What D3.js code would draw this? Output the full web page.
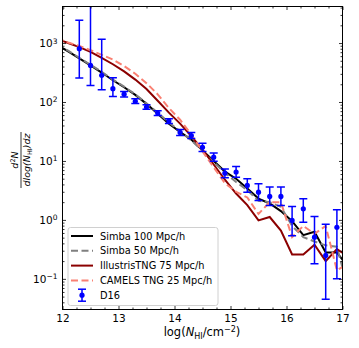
<!DOCTYPE html>
<html>
<head>
<meta charset="utf-8">
<script src="https://cdn.jsdelivr.net/npm/d3@7"></script>
<style>
    body { margin: 0; background: #fff; }
    text { font-family: "DejaVu Sans", sans-serif; }
</style>
</head>
<body>
<svg id="chart" width="359" height="348"></svg>
<script>
// column density bins for the simulation curves
const logN = [11.9, 12.1, 12.3, 12.5, 12.7, 12.9, 13.1, 13.3, 13.5, 13.7, 13.9, 14.1, 14.3, 14.5,
    14.7, 14.9, 15.1, 15.3, 15.5, 15.7, 15.9, 16.1, 16.3, 16.5, 16.7, 16.9, 17.1];

const simba100 = [933, 724, 550, 417, 316, 234, 178, 132, 93, 63, 43, 31, 23, 15.1,
    10.0, 6.6, 5.0, 3.4, 2.3, 1.9, 1.41, 0.95, 0.55, 0.63, 0.28, 0.28, 0.16];
const simba50 = [955, 741, 562, 427, 324, 240, 182, 135, 95, 66, 45, 32, 22.4, 14.8,
    9.5, 6.3, 4.4, 3.2, 2.1, 2.0, 1.66, 0.79, 0.51, 0.43, 0.37, 0.35, 0.068];
const tng75 = [1175, 1000, 851, 708, 562, 437, 331, 240, 166, 105, 66, 43, 26.3, 15.5,
    8.7, 4.8, 2.8, 1.78, 0.98, 1.12, 0.66, 0.26, 0.26, 0.38, 0.20, 0.32, 0.24];
const camels25 = [1202, 1023, 891, 759, 631, 525, 407, 302, 209, 135, 79, 50, 28, 14.5,
    7.8, 4.2, 3.0, 2.4, 1.26, 2.0, 2.0, 0.51, 0.79, 0.58, 0.79, 0.14, 0.18];

// D16 observations
const d16N = [12.3, 12.5, 12.7, 12.9, 13.1, 13.3, 13.5, 13.7, 13.9, 14.1, 14.3, 14.5,
    14.7, 14.9, 15.1, 15.3, 15.5, 15.7, 15.9, 16.1, 16.3, 16.5, 16.7, 16.9];
const d16 = [804, 418, 283, 168, 136, 103, 82, 65, 47.5, 30.5, 27, 17,
    11.6, 6.2, 6.5, 3.84, 2.95, 2.5, 2.5, 0.98, 1.54, 0.51, 0.25, 0.75];
const d16Lo = [255, 191, 162, 124, 121, 94, 75, 59, 43, 27, 24, 14.5,
    9.9, 5.2, 5.3, 2.95, 2.14, 1.75, 1.75, 0.54, 0.91, 0.18, 0.045, 0.10];
const d16Hi = [2430, 6000, 1155, 257, 150, 113, 90, 71, 52, 34, 30.5, 20,
    13.6, 7.3, 8.07, 4.99, 4.1, 3.6, 3.6, 1.69, 2.28, 1.14, 0.84, 1.48];

const xTicks = [12, 13, 14, 15, 16, 17];
const yTicks = [0.1, 1, 10, 100, 1000];
const yExp = ['−1', '0', '1', '2', '3'];

const series = [
    {name: 'Simba 100 Mpc/h', values: simba100, color: '#000000', dash: null},
    {name: 'Simba 50 Mpc/h', values: simba50, color: '#808080', dash: '7,3.5'},
    {name: 'IllustrisTNG 75 Mpc/h', values: tng75, color: '#8b0000', dash: null},
    {name: 'CAMELS TNG 25 Mpc/h', values: camels25, color: '#fa8072', dash: '7,3.5'},
];

const svg = d3.select('#chart');
const [pl, pr, pt, pb] = [62.5, 342.5, 6.5, 309.5];

const x = d3.scaleLinear().domain([12, 17]).range([pl, pr]);
const y = d3.scaleLog().domain([Math.pow(10, -1.52), Math.pow(10, 3.62)]).range([pb, pt]);

svg.append('clipPath').attr('id', 'clip')
    .append('rect').attr('x', pl).attr('y', pt).attr('width', pr - pl).attr('height', pb - pt);

const plot = svg.append('g').attr('clip-path', 'url(#clip)');

// simulation curves
const line = d3.line().x((d) => x(d[0])).y((d) => y(d[1]));
series.forEach((s) => {
    plot.append('path')
        .datum(logN.map((n, i) => [n, s.values[i]]))
        .attr('d', line)
        .attr('fill', 'none')
        .attr('stroke', s.color)
        .attr('stroke-width', 2)
        .attr('stroke-dasharray', s.dash);
});

// D16 error bars
const obs = d16N.map((n, i) => ({n: n, v: d16[i], lo: d16Lo[i], hi: d16Hi[i]}));
const bars = plot.selectAll('.err').data(obs).enter().append('g').attr('class', 'err')
    .attr('stroke', '#0000ff').attr('stroke-width', 1.5);
bars.append('line')
    .attr('x1', (d) => x(d.n)).attr('x2', (d) => x(d.n))
    .attr('y1', (d) => y(d.lo)).attr('y2', (d) => y(d.hi));
bars.append('line')
    .attr('x1', (d) => x(d.n) - 4).attr('x2', (d) => x(d.n) + 4)
    .attr('y1', (d) => y(d.lo)).attr('y2', (d) => y(d.lo));
bars.append('line')
    .attr('x1', (d) => x(d.n) - 4).attr('x2', (d) => x(d.n) + 4)
    .attr('y1', (d) => y(d.hi)).attr('y2', (d) => y(d.hi));
plot.selectAll('.pt').data(obs).enter().append('circle')
    .attr('cx', (d) => x(d.n)).attr('cy', (d) => y(d.v)).attr('r', 2.6)
    .attr('fill', '#0000ff');

// axes, ticks pointing inward on all four sides
const minorX = d3.range(12, 17.01, 0.25).filter((v) => !xTicks.includes(v));
const minorY = y.ticks().filter((v) => !yTicks.some((t) => Math.abs(t - v) < 1e-9));

function axes(axisFn, scale, pos, major, minor, labels) {
    const g = svg.append('g').attr('transform', pos);
    g.append('g').call(axisFn(scale).tickValues(minor).tickSize(-2).tickFormat(''));
    g.append('g').attr('class', 'major').call(axisFn(scale).tickValues(major).tickSize(-3.5)
        .tickPadding(5).tickFormat(labels ? d3.format('d') : ''));
    g.selectAll('.domain').remove();
    g.selectAll('line').attr('stroke', '#000').attr('stroke-width', 0.8);
    return g;
}

const xAxis = axes(d3.axisBottom, x, `translate(0,${pb})`, xTicks, minorX, true);
xAxis.selectAll('.major text').attr('font-size', 10.5).attr('fill', '#000')
    .attr('font-family', 'DejaVu Sans');
axes(d3.axisTop, x, `translate(0,${pt})`, xTicks, minorX, false);
axes(d3.axisRight, y, `translate(${pr},0)`, yTicks, minorY, false);
const yAxis = axes(d3.axisLeft, y, `translate(${pl},0)`, yTicks, minorY, true);
yAxis.selectAll('.major text')
    .attr('font-size', 10.5).attr('fill', '#000').attr('font-family', 'DejaVu Sans')
    .text('')
    .each(function (d, i) {
        const t = d3.select(this);
        t.append('tspan').text('10');
        t.append('tspan').attr('font-size', 7.5).attr('dy', '-0.45em').text(yExp[i]);
    });

svg.append('rect')
    .attr('x', pl).attr('y', pt).attr('width', pr - pl).attr('height', pb - pt)
    .attr('fill', 'none').attr('stroke', '#000').attr('stroke-width', 1);

// legend
const legend = svg.append('g');
legend.append('rect')
    .attr('x', 68).attr('y', 227.5).attr('width', 150).attr('height', 78)
    .attr('rx', 2.5).attr('fill', '#fff').attr('fill-opacity', 0.8)
    .attr('stroke', '#d0d0d0').attr('stroke-width', 1);
series.forEach((s, i) => {
    const ly = 236 + i * 14.8;
    legend.append('line')
        .attr('x1', 71).attr('x2', 93).attr('y1', ly).attr('y2', ly)
        .attr('stroke', s.color).attr('stroke-width', 2).attr('stroke-dasharray', s.dash);
    legend.append('text').attr('x', 100).attr('y', ly + 3.6)
        .attr('font-size', 9.8).text(s.name);
});
const dy = 236 + 4 * 14.8;
legend.append('g').attr('stroke', '#0000ff').attr('stroke-width', 1.5)
    .call((g) => {
        g.append('line').attr('x1', 82).attr('x2', 82).attr('y1', dy - 6).attr('y2', dy + 6);
        g.append('line').attr('x1', 78).attr('x2', 86).attr('y1', dy - 6).attr('y2', dy - 6);
        g.append('line').attr('x1', 78).attr('x2', 86).attr('y1', dy + 6).attr('y2', dy + 6);
    });
legend.append('circle').attr('cx', 82).attr('cy', dy).attr('r', 2.6).attr('fill', '#0000ff');
legend.append('text').attr('x', 100).attr('y', dy + 3.6).attr('font-size', 9.8).text('D16');

// x label
const xl = svg.append('text').attr('x', 202).attr('y', 336).attr('text-anchor', 'middle')
    .attr('font-size', 11.5);
xl.append('tspan').text('log(');
xl.append('tspan').attr('font-style', 'italic').text('N');
xl.append('tspan').attr('font-size', 8).attr('dy', 2.5).text('HI');
xl.append('tspan').attr('dy', -2.5).text('/cm');
xl.append('tspan').attr('font-size', 8).attr('dy', -4.5).text('−2');
xl.append('tspan').attr('dy', 4.5).text(')');

// y label, a fraction turned on its side
const yl = svg.append('g').attr('transform', 'translate(21,160) rotate(-90)');
const num = yl.append('text').attr('x', 0).attr('y', -3).attr('text-anchor', 'middle')
    .attr('font-size', 9.5).attr('font-style', 'italic');
num.append('tspan').text('d');
num.append('tspan').attr('font-size', 6.5).attr('dy', -3.5).attr('font-style', 'normal').text('2');
num.append('tspan').attr('dy', 3.5).text('N');
yl.append('line').attr('x1', -28).attr('x2', 28).attr('y1', 0).attr('y2', 0)
    .attr('stroke', '#000').attr('stroke-width', 0.8);
const den = yl.append('text').attr('x', 0).attr('y', 8.5).attr('text-anchor', 'middle')
    .attr('font-size', 9.5).attr('font-style', 'italic');
den.append('tspan').text('dlog(N');
den.append('tspan').attr('font-size', 6.5).attr('dy', 2).attr('font-style', 'normal').text('HI');
den.append('tspan').attr('dy', -2).text(')dz');
</script>
</body>
</html>
